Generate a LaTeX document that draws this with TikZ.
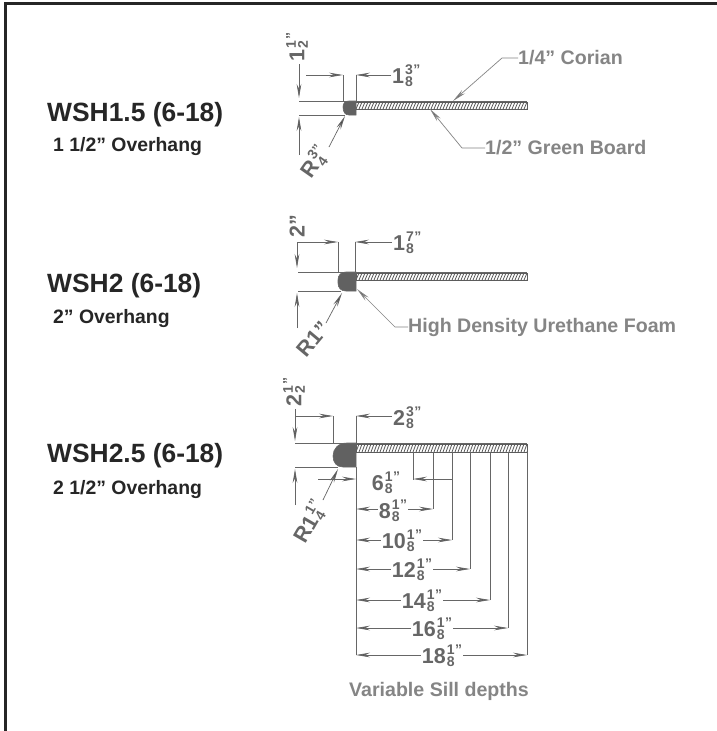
\documentclass[tikz,border=0pt]{standalone}
\usepackage{fontspec}
\setmainfont{Liberation Sans}[BoldFont={* Bold}]
\usetikzlibrary{arrows.meta}
\definecolor{ink}{gray}{0.15}
\definecolor{dimc}{gray}{0.40}
\definecolor{notec}{gray}{0.52}
\newcommand\fr[3]{#1\kern1pt\hbox{\fontsize{14}{15}\selectfont\rlap{\raisebox{8.5pt}{#2}}\raisebox{-3.5pt}{#3}\raisebox{8.5pt}{\kern0.5pt"}}}
\tikzset{
  x=1pt,y=-1pt,
  title/.style={anchor=west,font=\bfseries\fontsize{26.4}{28}\selectfont,text=ink,inner sep=0},
  sub/.style={anchor=west,font=\bfseries\fontsize{19.4}{21}\selectfont,text=ink,inner sep=0},
  dimtext/.style={font=\bfseries\fontsize{21.5}{22}\selectfont,text=dimc,inner sep=1pt},
  note/.style={anchor=west,font=\bfseries\fontsize{19.6}{21}\selectfont,text=notec,inner sep=0},
  ext/.style={draw=dimc,line width=0.7pt},
  arr/.style={draw=dimc,line width=0.7pt,-{Stealth[length=14pt,width=4.6pt,fill=dimc!70!black]}},
  lead/.style={draw=notec,line width=0.7pt,-{Stealth[length=14pt,width=4.6pt,fill=dimc]}},
  sill/.style={draw=ink!75,line width=0.8pt,fill=white},
  foam/.style={draw=dimc,line width=0.6pt,fill=black!62},
  hatchline/.style={draw=black!65,line width=0.8pt},
}
\newcommand\sillboard[4]{%
  \draw[sill] (#1,#3) rectangle (#2,#4);
  \begin{scope}
    \clip (#1,#3) rectangle (#2,#4);
    \foreach \hx in {0,3,...,180}{\draw[hatchline] ({#1+\hx},#4) -- ({#1+\hx+3},#3);}
  \end{scope}
}
\begin{document}
\begin{tikzpicture}
\useasboundingbox (0,0) rectangle (717,731);
\fill[white] (0,0) rectangle (717,731);
\draw[black!85,line width=3pt] (5.5,731) -- (5.5,3) -- (717,3);
% titles
\node[title] (t1) at (47,115) {WSH1.5 (6-18)};
\node[sub] (s1) at (53,147) {1 1/2" Overhang};
\node[title] (t2) at (47,286) {WSH2 (6-18)};
\node[sub] (s2) at (53,319) {2" Overhang};
\node[title] (t3) at (47,456) {WSH2.5 (6-18)};
\node[sub] (s3) at (53,490) {2 1/2" Overhang};
% section 1
\sillboard{353}{527}{102}{109}
\draw[foam] (356,101) -- (349,101) .. controls (345,101) and (343,103) .. (343,107) .. controls (343,112) and (345,115) .. (349,115) -- (356,115) -- cycle;
\draw[ext] (299,101) -- (527,101);
\draw[ext] (299,115) -- (345,115);
\draw[ext] (343,101) -- (343,75);
\draw[ext] (356,101) -- (356,75);
\node[dimtext,rotate=90] (a1) at (297,47) {\fr{1}{1}{2}};
\draw[arr] (299,64) -- (299,98);
\draw[arr] (299,155) -- (299,117);
\draw[arr] (306,75) -- (343,75);
\node[dimtext,anchor=west] (b1) at (391,76) {\fr{1}{3}{8}};
\draw[arr] (b1.west |- 0,75) -- (356,75);
\node[dimtext,rotate=55] (r1) at (315,162) {R\fr{}{3}{4}};
\draw[arr] (329,147) -- (345,116);
\node[note] (n1) at (518,58) {1/4" Corian};
\draw[lead] (n1.west) -- (502,58) -- (453,101);
\node[note] (n2) at (485,148) {1/2" Green Board};
\draw[lead] (n2.west) -- (462,148) -- (430,109);
% section 2
\sillboard{356}{527}{273}{280}
\draw[foam] (356,272) -- (346,272) .. controls (341,272) and (338,275) .. (338,280) -- (338,283) .. controls (338,288) and (341,291) .. (346,291) -- (356,291) -- cycle;
\draw[ext] (298,272) -- (527,272);
\draw[ext] (298,291) -- (341,291);
\draw[ext] (338,272) -- (338,242);
\draw[ext] (355,272) -- (355,242);
\node[dimtext,rotate=90] (a2) at (297,226) {2"};
\draw[arr] (297,242) -- (297,268);
\draw[arr] (297,328) -- (297,293);
\draw[arr] (298,242) -- (338,242);
\node[dimtext,anchor=west] (b2) at (392,243) {\fr{1}{7}{8}};
\draw[arr] (b2.west |- 0,242) -- (355,242);
\node[dimtext,rotate=50] (r2) at (313,339) {R1"};
\draw[arr] (326,323) -- (342,293);
\node[note] (n3) at (408,327) {High Density Urethane Foam};
\draw[lead] (n3.west) -- (395,327) -- (357,289);
% section 3
\sillboard{356}{527}{444}{452}
\draw[foam] (356,443) -- (347,443) .. controls (338,443) and (333,449) .. (333,456) .. controls (333,463) and (337,467) .. (343,467) -- (356,467) -- cycle;
\draw[ext] (295,443.5) -- (527,443.5);
\draw[ext] (295,467) -- (338,467);
\draw[ext] (333,443) -- (333,416);
\draw[ext] (356,443) -- (356,416);
\draw[ext] (356,467) -- (356,655);
\node[dimtext,rotate=90] (a3) at (294,392) {\fr{2}{1}{2}};
\draw[arr] (295,409) -- (295,441);
\draw[arr] (295,505) -- (295,469);
\draw[arr] (295,416) -- (333,416);
\node[dimtext,anchor=west] (b3) at (392,418) {\fr{2}{3}{8}};
\draw[arr] (b3.west |- 0,416) -- (356,416);
\node[dimtext,rotate=60] (r3) at (310,522) {R\fr{1}{1}{4}};
\draw[arr] (323,500) -- (338,469);
% sill depth extension lines
\draw[ext] (413,452) -- (413,480);
\draw[ext] (433,452) -- (433,509);
\draw[ext] (452,452) -- (452,540);
\draw[ext] (470,452) -- (470,569);
\draw[ext] (490,452) -- (490,600);
\draw[ext] (508,452) -- (508,628);
\draw[ext] (527,452) -- (527,655);
% sill depth dimensions
\draw[arr] (318,479) -- (356,479);
\draw[ext] (433,479) -- (452,479);
\draw[arr] (433,479) -- (413,479);
\node[dimtext] (d6) at (386,483) {\fr{6}{1}{8}};
\node[dimtext] (d8) at (393,511) {\fr{8}{1}{8}};
\draw[arr] (d8.west |- 0,509) -- (356,509);
\draw[arr] (d8.east |- 0,509) -- (433,509);
\node[dimtext] (d10) at (402,541) {\fr{10}{1}{8}};
\draw[arr] (d10.west |- 0,540) -- (356,540);
\draw[arr] (d10.east |- 0,540) -- (452,540);
\node[dimtext] (d12) at (412,570) {\fr{12}{1}{8}};
\draw[arr] (d12.west |- 0,569) -- (356,569);
\draw[arr] (d12.east |- 0,569) -- (470,569);
\node[dimtext] (d14) at (422,601) {\fr{14}{1}{8}};
\draw[arr] (d14.west |- 0,600) -- (356,600);
\draw[arr] (d14.east |- 0,600) -- (490,600);
\node[dimtext] (d16) at (432,629) {\fr{16}{1}{8}};
\draw[arr] (d16.west |- 0,628) -- (356,628);
\draw[arr] (d16.east |- 0,628) -- (508,628);
\node[dimtext] (d18) at (442,656) {\fr{18}{1}{8}};
\draw[arr] (d18.west |- 0,655) -- (356,655);
\draw[arr] (d18.east |- 0,655) -- (527,655);
\node[note,anchor=center] (v) at (439,691) {Variable Sill depths};
\end{tikzpicture}
\end{document}
